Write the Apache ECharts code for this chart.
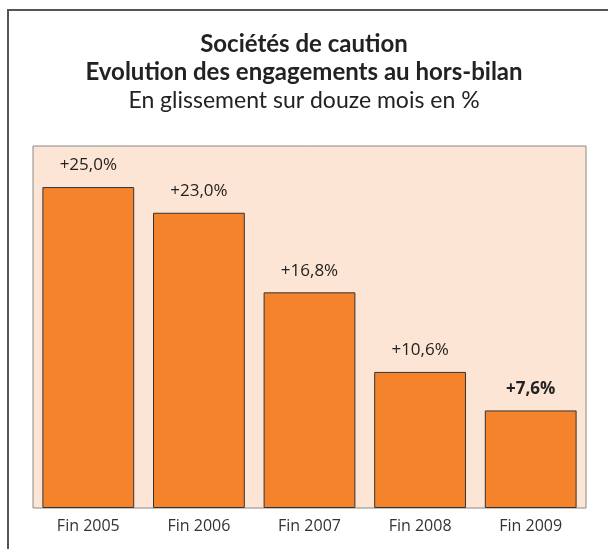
<!DOCTYPE html>
<html><head><meta charset="utf-8">
<script src="https://cdn.jsdelivr.net/npm/echarts@6/dist/echarts.min.js"></script>
<style>html,body{margin:0;padding:0;background:#fff}#c{width:608px;height:549px}</style>
</head><body><div id="c"></div>
<script>
const categories = ['Fin 2005', 'Fin 2006', 'Fin 2007', 'Fin 2008', 'Fin 2009'];
const values = [25.0, 23.0, 16.8, 10.6, 7.6];
const labels = ['+25,0%', '+23,0%', '+16,8%', '+10,6%', '+7,6%'];

const chart = echarts.init(document.getElementById('c'));
chart.setOption({
  animation: false,
  backgroundColor: '#fff',
  graphic: [{
    type: 'rect', shape: {x: 8, y: 10, width: 640, height: 600},
    style: {fill: 'none', stroke: '#555', lineWidth: 2}, silent: true
  }],
  title: {
    text: 'Sociétés de caution\nEvolution des engagements au hors-bilan',
    subtext: 'En glissement sur douze mois en %',
    left: 'center', top: 25, itemGap: 1,
    textStyle: {fontFamily: 'Lato', fontWeight: 'bold', fontSize: 24, lineHeight: 28, color: '#222'},
    subtextStyle: {fontFamily: 'Lato', fontSize: 23, lineHeight: 27, color: '#222'}
  },
  grid: {left: 33, right: 22, top: 146, bottom: 41, show: true, backgroundColor: '#FDE5D5', borderColor: '#888', borderWidth: 1},
  xAxis: {
    type: 'category', data: categories,
    axisLine: {show: false}, axisTick: {show: false},
    axisLabel: {fontFamily: 'Open Sans', fontSize: 16, color: '#333', margin: 10}
  },
  yAxis: {type: 'value', min: 0, max: 28.2, show: false, splitLine: {show: false}},
  series: [{
    type: 'bar', barCategoryGap: '17%',
    data: values.map((v, i) => ({
      value: v,
      label: {fontWeight: i === 4 ? 'bold' : 'normal'}
    })),
    itemStyle: {color: '#F5832C', borderColor: '#333', borderWidth: 1},
    label: {
      show: true, position: 'top', distance: 13,
      fontFamily: 'Open Sans', fontSize: 17, color: '#222',
      formatter: p => labels[p.dataIndex]
    }
  }]
});
</script></body></html>
